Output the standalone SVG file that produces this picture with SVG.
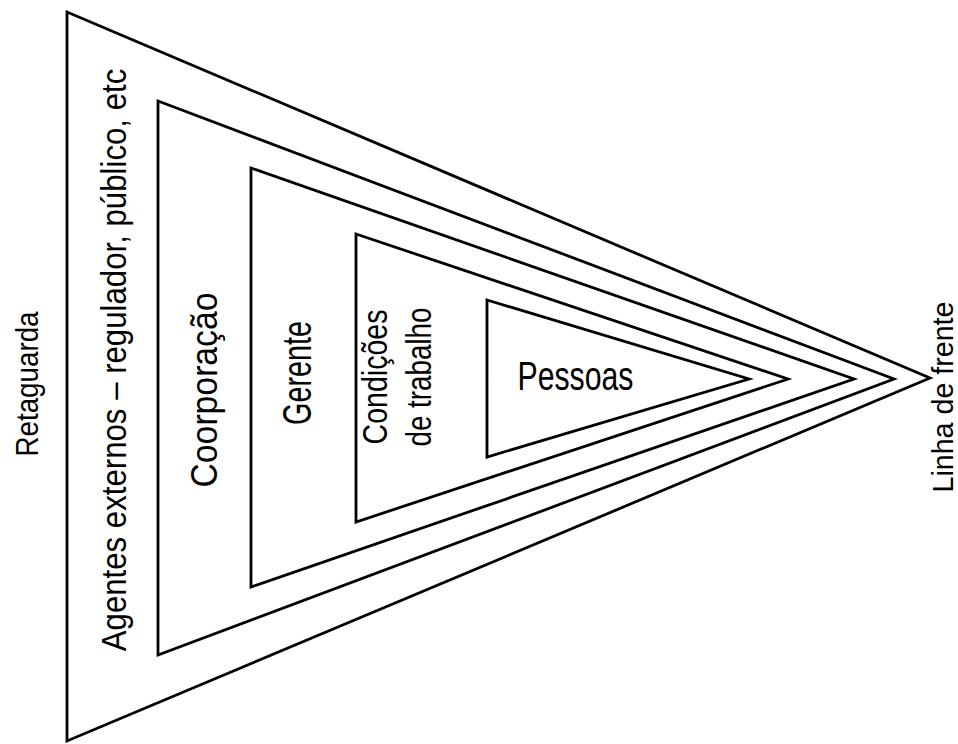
<svg xmlns="http://www.w3.org/2000/svg" width="958" height="744" viewBox="0 0 958 744">
  <style>
    .tri { fill: none; stroke: #000; stroke-width: 2.8; stroke-linejoin: miter; stroke-miterlimit: 10; }
    .lbl { font-family: "Liberation Sans", Arial, Helvetica, sans-serif; fill: #000; }
  </style>
  <rect width="958" height="744" fill="#fff"/>

  <!-- nested layers, outermost first -->
  <g id="agentes-externos">
    <polygon class="tri" points="67,12 930,378 67,741"/>
    <!-- narrow lettering: natural width 585 at 31.2px, stretched to 36px tall -->
    <text class="lbl" font-size="31.2" text-anchor="middle" transform="translate(126,360) rotate(-90) scale(1,1.154)">Agentes externos – regulador, público, etc</text>
  </g>
  <g id="corporacao">
    <polygon class="tri" points="158,101 894,379 158,655"/>
    <text class="lbl" font-size="37" text-anchor="middle" textLength="195" lengthAdjust="spacingAndGlyphs" transform="translate(217,390) rotate(-90)">Coorporação</text>
  </g>
  <g id="gerente">
    <polygon class="tri" points="251,168 854,379 251,587"/>
    <text class="lbl" font-size="41" text-anchor="middle" textLength="104" lengthAdjust="spacingAndGlyphs" transform="translate(311,373) rotate(-90)">Gerente</text>
  </g>
  <g id="condicoes">
    <polygon class="tri" points="356,234 788,379 356,522"/>
    <text class="lbl" font-size="35" text-anchor="middle" textLength="135" lengthAdjust="spacingAndGlyphs" transform="translate(387,377) rotate(-90)">Condições</text>
    <text class="lbl" font-size="35" text-anchor="middle" textLength="139" lengthAdjust="spacingAndGlyphs" transform="translate(431,377) rotate(-90)">de trabalho</text>
  </g>
  <g id="pessoas">
    <polygon class="tri" points="487,300 749,379 487,457"/>
    <text class="lbl" font-size="41" textLength="116" lengthAdjust="spacingAndGlyphs" x="517.5" y="389.5">Pessoas</text>
  </g>

  <!-- axis labels -->
  <g id="retaguarda">
    <text class="lbl" font-size="32" text-anchor="middle" textLength="145" lengthAdjust="spacingAndGlyphs" transform="translate(38,384) rotate(-90)">Retaguarda</text>
  </g>
  <g id="linha-de-frente">
    <text class="lbl" font-size="30" text-anchor="middle" textLength="191" lengthAdjust="spacingAndGlyphs" transform="translate(953,397) rotate(-90)">Linha de frente</text>
  </g>
</svg>
